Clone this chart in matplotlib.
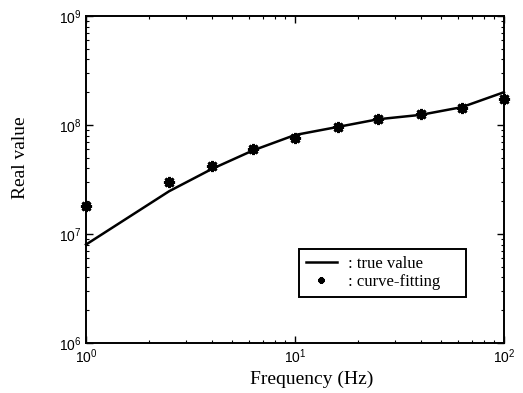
import matplotlib

matplotlib.use("Agg")
import matplotlib.pyplot as plt  # noqa: E402
from matplotlib.ticker import LogLocator, NullFormatter  # noqa: E402

# frequency points (Hz) and the real part of the modulus
freq_hz = [1.0, 2.5, 4.0, 6.3, 10.0, 16.0, 25.0, 40.0, 63.0, 100.0]
true_value = [8.0e6, 2.47e7, 3.95e7, 5.85e7, 8.1e7, 9.6e7, 1.13e8, 1.24e8, 1.46e8, 2.0e8]
fitted_value = [1.82e7, 2.99e7, 4.2e7, 6.05e7, 7.65e7, 9.5e7, 1.14e8, 1.27e8, 1.42e8, 1.72e8]

serif = "Liberation Serif"
sans = "Liberation Sans"

fig = plt.figure(figsize=(5.23, 3.93), dpi=100)
ax = fig.add_axes([0.1644, 0.1272, 0.7992, 0.832])

ax.plot(freq_hz, true_value, color="black", linewidth=1.8, label=": true value", clip_on=False)
ax.plot(freq_hz, fitted_value, linestyle="none", marker=(8, 2, 0), markersize=8,
        markeredgewidth=2.0, color="black", label=": curve-fitting", clip_on=False, zorder=4)

ax.set_xscale("log")
ax.set_yscale("log")
ax.set_xlim(1, 100)
ax.set_ylim(1e6, 1e9)

ax.xaxis.set_major_locator(LogLocator(base=10, numticks=10))
ax.yaxis.set_major_locator(LogLocator(base=10, numticks=10))
ax.xaxis.set_minor_locator(LogLocator(base=10, subs=range(2, 10), numticks=20))
ax.yaxis.set_minor_locator(LogLocator(base=10, subs=range(2, 10), numticks=20))
ax.xaxis.set_minor_formatter(NullFormatter())
ax.yaxis.set_minor_formatter(NullFormatter())

ax.tick_params(which="both", direction="in", top=True, right=True, colors="black")
ax.tick_params(which="major", length=5, width=1.0, labelsize=10, pad=3)
ax.tick_params(which="minor", length=2.5, width=0.8)
for lbl in ax.get_xticklabels() + ax.get_yticklabels():
    lbl.set_fontfamily(sans)
for side in ax.spines.values():
    side.set_linewidth(1.4)

ax.set_xlabel("Frequency (Hz)", fontfamily=serif, fontsize=14)
ax.set_ylabel("Real value", fontfamily=serif, fontsize=14)
ax.xaxis.set_label_coords(0.54, -0.086)
ax.yaxis.set_label_coords(-0.136, 0.566)

leg = ax.legend(loc="lower left", bbox_to_anchor=(0.51, 0.141, 0.398, 0.157), mode="expand",
                borderaxespad=0, fancybox=False, edgecolor="black", framealpha=1,
                prop={"family": serif, "size": 12}, handlelength=1.85, handletextpad=0.7,
                labelspacing=0.15, borderpad=0.4, markerscale=0.55)
leg.get_frame().set_linewidth(1.4)

fig.savefig("out.png", dpi=100)
